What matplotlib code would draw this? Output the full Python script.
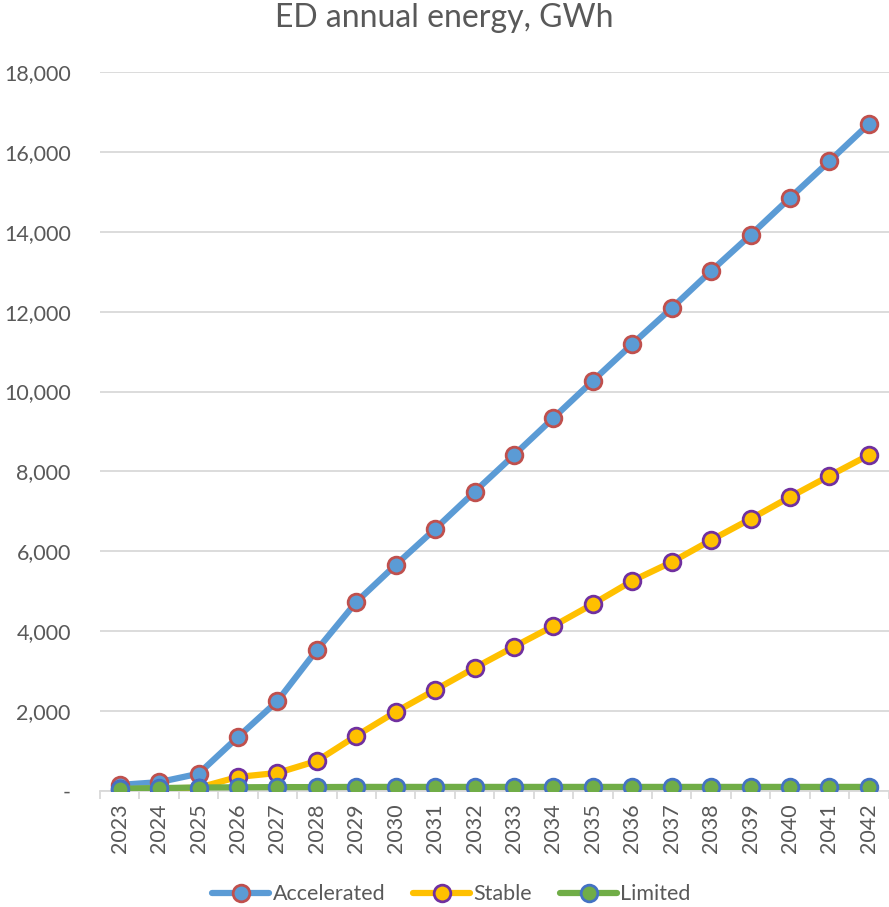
import matplotlib.pyplot as plt
from matplotlib.ticker import FuncFormatter, MultipleLocator
import numpy as np

plt.rcParams['font.family'] = ['Lato', 'DejaVu Sans']

years = [str(y) for y in range(2023, 2043)]

accelerated = [150, 220, 430, 1350, 2250, 3530, 4730, 5660, 6560, 7490,
               8410, 9340, 10270, 11190, 12090, 13020, 13920, 14850, 15770, 16700]
stable = [40, 60, 80, 350, 450, 750, 1380, 1980, 2530, 3080,
          3610, 4130, 4680, 5260, 5730, 6280, 6810, 7360, 7890, 8410]
limited = [50, 70, 85, 90, 95, 95, 100, 100, 100, 100,
           100, 100, 100, 100, 100, 100, 100, 100, 100, 100]

series = [
    ('Accelerated', accelerated, '#5b9bd5', '#5b9bd5', '#c0504d'),
    ('Stable', stable, '#ffc000', '#ffc000', '#7030a0'),
    ('Limited', limited, '#70ad47', '#70ad47', '#4472c4'),
]

fig = plt.figure(figsize=(8.89, 9.07), dpi=100)
ax = fig.add_axes([0.1125, 0.128, 0.887, 0.7925])

x = np.arange(len(years))
for name, vals, line_c, face_c, edge_c in series:
    ax.plot(x, vals, color=line_c, lw=4.5, marker='o', ms=12,
            markerfacecolor=face_c, markeredgecolor=edge_c, markeredgewidth=2,
            label=name, solid_capstyle='round', zorder=3)

ax.set_xlim(-0.5, len(years) - 0.5)
ax.set_ylim(0, 18000)
ax.yaxis.set_major_locator(MultipleLocator(2000))
ax.yaxis.set_major_formatter(FuncFormatter(lambda v, p: '-' if v == 0 else f'{v:,.0f}'))
ax.grid(axis='y', color='#d9d9d9', lw=1.3, zorder=0)

ax.set_xticks(x)
ax.set_xticklabels(years, rotation=90)
ax.set_xticks(np.arange(-0.5, len(years), 1), minor=True)
ax.tick_params(axis='x', which='major', length=0, pad=9, labelsize=15.5, labelcolor='#595959')
ax.tick_params(axis='x', which='minor', length=6, color='#d9d9d9', width=1.3)
ax.tick_params(axis='y', length=0, pad=21, labelsize=15.5, labelcolor='#595959')

for side in ('top', 'right', 'left'):
    ax.spines[side].set_visible(False)
ax.spines['bottom'].set_color('#d9d9d9')
ax.spines['bottom'].set_linewidth(1.3)

fig.suptitle('ED annual energy, GWh', y=0.997, fontsize=23, color='#595959')

fig.legend(loc='center', bbox_to_anchor=(0.508, 0.014), ncol=3, frameon=False,
           fontsize=15.5, labelcolor='#595959', handlelength=2.65,
           handletextpad=0.15, columnspacing=1.3)

fig.savefig('out.png', dpi=100, facecolor='white')
